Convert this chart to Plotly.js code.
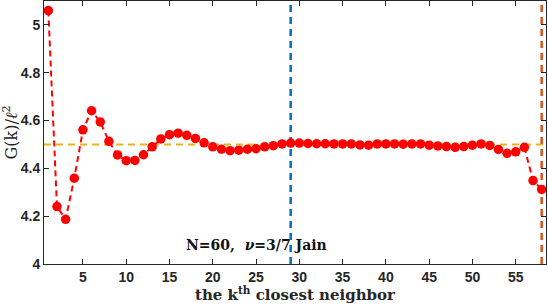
<!DOCTYPE html>
<html>
<head>
<meta charset="utf-8">
<script src="https://cdn.plot.ly/plotly-3.0.1.min.js"></script>
<style>html,body{margin:0;padding:0;background:#fff;}#chart{width:548px;height:304px;}</style>
</head>
<body>
<div id="chart"></div>
<script>
// neighbour index k
const kValues = [];
for (let i = 1; i <= 58; i++) kValues.push(i);
// G(k)/l^2
const gValues = [
  5.06, 4.24, 4.187, 4.359, 4.561, 4.641, 4.594, 4.513, 4.456, 4.432,
  4.433, 4.457, 4.490, 4.523, 4.541, 4.547, 4.538, 4.525, 4.507, 4.490,
  4.480, 4.474, 4.476, 4.480, 4.482, 4.490, 4.495, 4.502, 4.506, 4.506,
  4.504, 4.503, 4.503, 4.502, 4.502, 4.502, 4.498, 4.497, 4.502, 4.502,
  4.502, 4.501, 4.502, 4.502, 4.497, 4.494, 4.491, 4.488, 4.491, 4.497,
  4.502, 4.496, 4.479, 4.463, 4.469, 4.488, 4.349, 4.312
];
const refLevel = 4.5;          // horizontal reference G/l^2
const markerK1 = 29;           // blue vertical line
const markerK2 = 58;           // orange vertical line
const xRange = [0.5, 58.5];
const yRange = [4, 5.1];
const xTicks = [5, 10, 15, 20, 25, 30, 35, 40, 45, 50, 55];
const yTicks = [4, 4.2, 4.4, 4.6, 4.8, 5];
const yTickText = ['4', '4.2', '4.4', '4.6', '4.8', '5'];

const traces = [
  {x: xRange, y: [refLevel, refLevel], mode: 'lines',
   line: {color: '#EDB120', width: 2, dash: '7px,5px'}, hoverinfo: 'skip'},
  {x: [markerK1, markerK1], y: yRange, mode: 'lines',
   line: {color: '#0072BD', width: 2.5, dash: '7px,5px'}, hoverinfo: 'skip'},
  {x: [markerK2, markerK2], y: yRange, mode: 'lines',
   line: {color: '#D95319', width: 2.5, dash: '7px,5px'}, hoverinfo: 'skip'},
  {x: kValues, y: gValues, mode: 'lines+markers',
   line: {color: '#FF0000', width: 2, dash: '6px,4px'},
   marker: {color: '#FF0000', size: 9.5}, cliponaxis: false}
];

const axisCommon = {
  showgrid: false, zeroline: false, showline: true, mirror: 'ticks',
  linecolor: '#262626', linewidth: 1, ticks: 'inside', ticklen: 5,
  tickcolor: '#262626', tickwidth: 1,
  tickfont: {family: 'Liberation Sans, Arial, sans-serif', size: 14, color: '#262626', weight: 'bold'}
};

const layout = {
  width: 548, height: 304,
  margin: {l: 44, r: 2, t: 1, b: 40},
  paper_bgcolor: '#fff', plot_bgcolor: '#fff',
  showlegend: false,
  xaxis: Object.assign({}, axisCommon, {
    range: xRange, tickvals: xTicks, ticktext: xTicks.map(String),
    title: {text: '<b>the k<sup>th</sup> closest neighbor</b>', standoff: 2,
            font: {family: 'DejaVu Serif, serif', size: 15, color: '#262626'}}
  }),
  yaxis: Object.assign({}, axisCommon, {
    range: yRange, tickvals: yTicks, ticktext: yTickText,
    title: {text: 'G(k)/<i>ℓ</i><sup>2</sup>', standoff: 4,
            font: {family: 'DejaVu Serif, serif', size: 16, color: '#262626'}}
  }),
  annotations: [{
    x: 25.1, y: 4.08, xref: 'x', yref: 'y', showarrow: false,
    text: '<b>N=60,  <i>ν</i>=3/7 Jain</b>',
    font: {family: 'DejaVu Serif, serif', size: 14, color: '#111'}
  }]
};

Plotly.newPlot('chart', traces, layout, {displayModeBar: false, staticPlot: true});
</script>
</body>
</html>
